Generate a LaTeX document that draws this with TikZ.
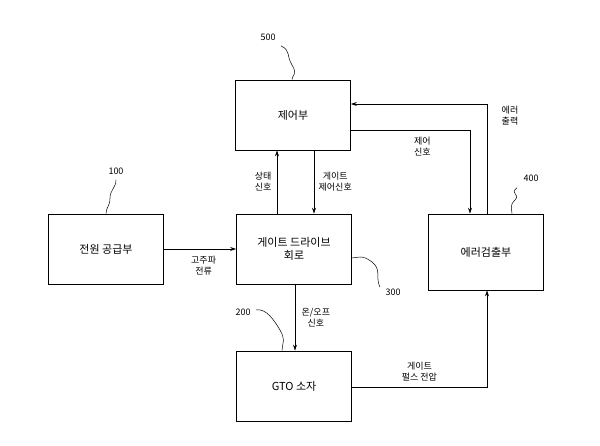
\documentclass[tikz,border=0pt]{standalone}
\usepackage{fontspec}
\setmainfont{Noto Sans CJK KR}
\usetikzlibrary{arrows.meta}
\begin{document}
\begin{tikzpicture}[x=1pt,y=-1pt,
  blk/.style={draw,line width=0.7pt,minimum width=115pt,minimum height=70pt,font=\fontsize{11}{13}\selectfont,align=center},
  lbl/.style={font=\fontsize{9}{11}\selectfont,align=center},
  num/.style={font=\fontsize{9}{10}\selectfont},
  arr/.style={-{Stealth[length=6pt,width=4pt]},line width=0.7pt},
  sq/.style={line width=0.5pt}]
\useasboundingbox (0,0) rectangle (600,446);
\node[blk] (b500) at (293,115) {제어부};
\node[blk] (b300) at (294,249) {게이트 드라이브\\회로};
\node[blk] (b100) at (106,249) {전원 공급부};
\node[blk,minimum height=76pt] (b400) at (486,252) {에러검출부};
\node[blk] (b200) at (294,386) {GTO 소자};
\node[num] (n500) at (268,37) {500};
\node[num] (n100) at (116,171) {100};
\node[num] (n400) at (531,178) {400};
\node[num] (n300) at (393,292) {300};
\node[num] (n200) at (243,312) {200};
\node[lbl] (eo) at (510,116) {에러\\출력};
\draw[sq] (n500.south east) ++(2,2) coordinate (s5) .. controls +(10,5) and +(-6,-10) .. (292,65) .. controls +(6,10) and +(0,-5) .. (b500.north -| 292,0);
\draw[sq] (n100.south) ++(0,2) coordinate (s1) .. controls +(0,8) and +(0,-8) .. (110,198) .. controls +(0,8) and +(0,-6) .. (b100.north -| 106,0);
\draw[sq] (n400.south west) ++(-3,3) coordinate (s4) .. controls +(-8,6) and +(6,-6) .. (515,200) .. controls +(-6,6) and +(0,-5) .. (b400.north -| 512,0);
\draw[sq] (n300.north west) ++(-2,2) coordinate (s3) .. controls +(-5,-10) and +(10,8) .. (372,262) .. controls +(-10,-8) and +(5,0) .. (b300.east |- 0,258);
\draw[sq] (n200.east) ++(2,-2) coordinate (s2) .. controls +(10,-2) and +(-6,-10) .. (280,330) .. controls +(6,10) and +(0,-6) .. (b200.north -| 282,0);
\draw[arr] (b100.east) -- (b300.west |- b100.east) node[lbl,pos=0.55,below=3pt] {고주파\\전류};
\draw[arr] (b300.north -| 277,0) -- (b500.south -| 277,0) node[lbl,midway,left=2pt] {상태\\신호};
\draw[arr] (b500.south -| 314,0) -- (b300.north -| 314,0) node[lbl,midway,right=1pt] {게이트\\제어신호};
\draw[arr] (b300.south -| 295,0) -- (b200.north -| 295,0) node[lbl,midway,right=3pt] {온/오프\\신호};
\draw[arr] (b200.east |- 0,387) -| (b400.south -| 487,0) node[lbl,pos=0.25,above=2pt] {게이트\\펄스 전압};
\draw[arr] (b400.north -| 487,0) |- (b500.east |- 0,104);
\draw[arr] (b500.east |- 0,130) -| (b400.north -| 470,0) node[lbl,pos=0.3,below=3pt] {제어\\신호};
\end{tikzpicture}
\end{document}
